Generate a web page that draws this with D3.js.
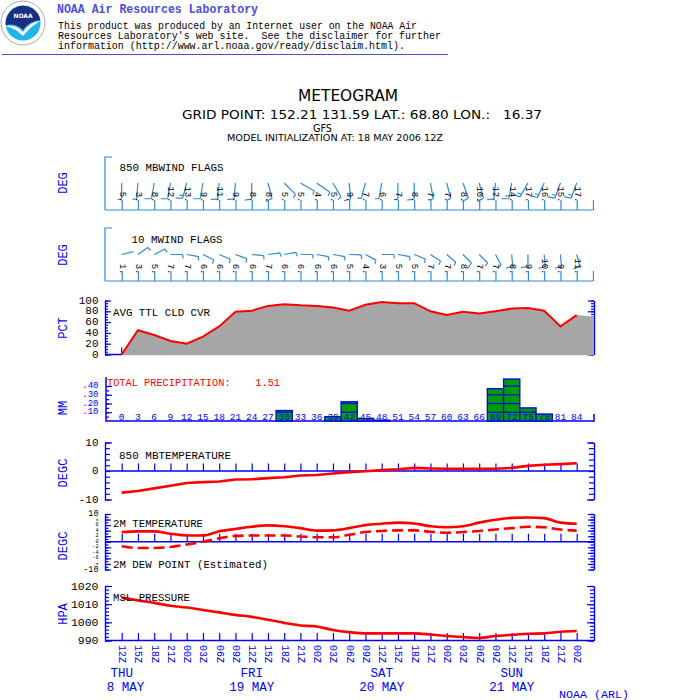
<!DOCTYPE html>
<html>
<head>
<meta charset="utf-8">
<script src="https://cdn.jsdelivr.net/npm/d3@7"></script>
<style>
  body { margin: 0; background: #fff; }
  text { white-space: pre; }
</style>
</head>
<body>
<svg id="chart" width="700" height="700"></svg>
<script>
// forecast hours / labels
const fcstHours = [0,3,6,9,12,15,18,21,24,27,30,33,36,39,42,45,48,51,54,57,60,63,66,69,72,75,78,81,84]
const timeLabels = ['12Z','15Z','18Z','21Z','00Z','03Z','06Z','09Z','12Z','15Z','18Z','21Z','00Z','03Z','06Z','09Z',
  '12Z','15Z','18Z','21Z','00Z','03Z','06Z','09Z','12Z','15Z','18Z','21Z','00Z']
const dayNames = ['THU','FRI','SAT','SUN']
const dayDates = [' 8 MAY','19 MAY','20 MAY','21 MAY']
const dayHours = [0,24,48,72]

// wind flags
const wind850Speed = [5,3,8,12,13,9,11,9,8,8,5,5,4,5,9,7,6,7,8,7,7,8,10,12,14,17,16,15,17]
const wind850Dir = [180,185,190,190,195,190,185,185,180,165,135,120,125,150,175,195,190,180,180,170,165,160,165,185,190,210,205,200,200]
const wind10Speed = [1,3,5,7,7,6,6,6,6,7,6,6,6,6,5,4,3,5,5,7,7,8,7,7,8,9,10,9,11]
const wind10Dir = [76,54,63,90,100,116,113,110,95,82,80,90,100,100,92,118,90,100,112,123,130,135,135,152,175,180,175,175,165]

// panels
const cloudCover = [0,45,36,25,20,33,52,79,81,90,93,91,90,87,81,92,97,95,95,80,73,79,76,80,85,86,81,52,73]
const precip = [0,0,0,0,0,0,0,0,0,0,0.12,0,0,0.05,0.22,0.03,0.01,0,0,0,0,0,0,0.37,0.48,0.15,0.08,0,0]
const precipTotal = '1.51'
const temp850 = [-7.6,-7.0,-6.1,-5.2,-4.2,-3.9,-3.7,-3.0,-2.9,-2.5,-2.2,-1.6,-1.4,-0.9,-0.4,-0.1,0.3,0.6,1.1,0.9,0.8,0.8,0.8,0.8,1.1,1.8,2.2,2.4,2.7]
const temp2m = [3.5,3.75,3.75,2.9,2.25,2.25,3.75,4.6,5.4,5.9,5.6,4.9,4.0,4.1,4.9,6.0,6.5,6.9,6.6,5.6,5.25,5.6,6.9,7.9,8.6,8.75,8.5,6.9,6.5]
const dew2m = [-1.6,-2.25,-2.25,-1.9,-1.0,0,1.25,2.1,2.25,2.25,2.25,1.9,1.6,1.6,2.5,3.5,3.9,4.1,4.1,3.6,3.25,3.5,3.9,4.4,4.9,5.4,5.25,4.4,4.0]
const mslp = [1013.6,1012.1,1010.7,1009.1,1008.2,1006.8,1005.5,1004.1,1003.0,1001.4,999.7,998.3,997.7,995.8,994.6,993.9,993.9,993.9,993.9,993.3,992.5,991.9,991.4,992.5,993.1,993.7,993.9,994.8,995.2]

const svg = d3.select('#chart')
const mono = "'Liberation Mono', 'DejaVu Sans Mono', monospace"
const sans = "'DejaVu Sans', 'Liberation Sans', sans-serif"
const blue = '#0000ff'
const windBlue = '#2f8ad8'
const hdrBlue = '#4b4be6'
const red = '#ff0000'

const left = 105, right = 594
const x = d3.scaleLinear().domain([0, 84]).range([121.7, 576.7])
const step = x(3) - x(0)

svg.append('rect').attr('width', 700).attr('height', 700).attr('fill', '#fff')

function txt(g, s, px, py, opts = {}) {
  const t = g.append('text')
    .attr('x', px).attr('y', py)
    .attr('font-family', opts.font || mono)
    .attr('font-size', opts.size || 11)
    .attr('fill', opts.fill || '#000')
    .attr('text-anchor', opts.anchor || 'start')
    .text(s)
  if (opts.len) t.attr('textLength', opts.len).attr('lengthAdjust', 'spacingAndGlyphs')
  if (opts.weight) t.attr('font-weight', opts.weight)
  return t
}

function yTitle(label, cy) {
  svg.append('text')
    .attr('transform', `translate(67,${cy}) rotate(-90)`)
    .attr('text-anchor', 'middle')
    .attr('font-family', mono).attr('font-size', 12)
    .attr('fill', blue).text(label)
}

// vertical frame axis with inward ticks
function frame(scale, xPos, minorVals, majorVals, minorLen, majorLen, inward, color = blue) {
  const mk = inward > 0 ? d3.axisRight : d3.axisLeft
  const g = svg.append('g').attr('transform', `translate(${xPos},0)`)
  g.append('g').call(mk(scale).tickValues(minorVals).tickSizeInner(minorLen).tickSizeOuter(0).tickFormat(''))
  g.append('g').call(mk(scale).tickValues(majorVals).tickSizeInner(majorLen).tickSizeOuter(0).tickFormat(''))
  g.selectAll('path,line').attr('stroke', color).attr('stroke-width', 1.2)
  return g
}

function yLabels(scale, vals, fmt, color = '#000', size = 11) {
  vals.forEach(v => {
    txt(svg, fmt(v), 98.5, scale(v), { size, fill: color, anchor: 'end' })
      .attr('dominant-baseline', 'central')
  })
}

function timeTicks(y0, len, color = blue) {
  const g = svg.append('g').attr('transform', `translate(0,${y0})`)
    .call(d3.axisTop(x).tickValues(fcstHours).tickSizeInner(len).tickSizeOuter(0).tickFormat(''))
  g.select('.domain').remove()
  g.selectAll('line').attr('stroke', color).attr('stroke-width', 1.2)
  svg.append('line').attr('x1', left).attr('x2', right).attr('y1', y0).attr('y2', y0)
    .attr('stroke', color).attr('stroke-width', 1.5)
}

// ---------- header ----------
const logo = svg.append('g').attr('transform', 'translate(23,23)')
logo.append('circle').attr('r', 22).attr('fill', '#fff').attr('stroke', '#aaa')
logo.append('circle').attr('r', 17.5).attr('fill', '#1fb4ea')
logo.append('path').attr('d', 'M-17.3,2 A17.5,17.5 0 0 1 17.3,-3 Q6,-2 0,7 Q-7,0 -17.3,2 Z').attr('fill', '#1b2f82')
logo.append('path').attr('d', 'M-17.5,3 Q-7,1 0,9 Q6,-1 17.5,-2 Q8,3 0,13 Q-8,5 -17.5,3 Z').attr('fill', '#fff')
txt(logo, 'NOAA', 0, -5, { size: 6, fill: '#fff', anchor: 'middle', weight: 'bold', font: sans })

txt(svg, 'NOAA Air Resources Laboratory', 57, 13, { size: 12, fill: hdrBlue, weight: 'bold', len: 201 })
txt(svg, 'This product was produced by an Internet user on the NOAA Air', 58, 29, { size: 10, len: 359 })
txt(svg, "Resources Laboratory's web site.  See the disclaimer for further", 58, 39, { size: 10, len: 383 })
txt(svg, 'information (http://www.arl.noaa.gov/ready/disclaim.html).', 58, 49, { size: 10, len: 347 })
svg.append('line').attr('x1', 2).attr('x2', 448).attr('y1', 54.5).attr('y2', 54.5).attr('stroke', hdrBlue)

// ---------- title ----------
txt(svg, 'METEOGRAM', 348, 101, { size: 16, anchor: 'middle', font: sans, len: 100 })
txt(svg, 'GRID POINT: 152.21 131.59 LAT.: 68.80 LON.:   16.37', 182, 119, { size: 11.5, font: sans, len: 360 })
txt(svg, 'GFS', 313, 131.5, { size: 10.5, font: sans, len: 19 })
txt(svg, 'MODEL INITIALIZATION AT: 18 MAY 2006 12Z', 227, 141, { size: 8.5, font: sans, len: 216 })

// ---------- wind flags ----------
function windPanel(top, bottom, label, labelX, speeds, dirs, stationY, staffLen, numEndY, titleY) {
  svg.append('path')
    .attr('d', `M${left + 7},${top} H${left} V${bottom}`)
    .attr('fill', 'none').attr('stroke', windBlue).attr('stroke-width', 1.2)
  const g = svg.append('g').attr('transform', `translate(0,${bottom})`)
    .call(d3.axisTop(x).tickValues(fcstHours.concat([87])).tickSizeInner(10).tickSizeOuter(0).tickFormat(''))
  g.select('.domain').remove()
  g.selectAll('line').attr('stroke', windBlue).attr('stroke-width', 1.2)
  svg.append('line').attr('x1', left).attr('x2', x(87)).attr('y1', bottom).attr('y2', bottom)
    .attr('stroke', windBlue).attr('stroke-width', 1.2)
  txt(svg, label, labelX, titleY, { size: 11, len: label.length * 6.5 })

  const bg = svg.append('g')
  fcstHours.forEach((h, i) => {
    const cx = x(h), a = dirs[i] * Math.PI / 180
    const ux = Math.sin(a), uy = -Math.cos(a)
    const ex = cx + ux * staffLen, ey = stationY + uy * staffLen
    let d = `M${cx},${stationY} L${ex},${ey}`
    const phi = 80 * Math.PI / 180
    const bx = ux * Math.cos(phi) - uy * Math.sin(phi)
    const by = ux * Math.sin(phi) + uy * Math.cos(phi)
    const r = Math.round(speeds[i] / 5) * 5
    const full = Math.floor(r / 10), half = r % 10 ? 1 : 0
    let k = 0
    for (; k < full; k++) {
      const px = ex - ux * k * 3, py = ey - uy * k * 3
      d += ` M${px},${py} l${bx * 7},${by * 7}`
    }
    if (half) {
      const px = ex - ux * k * 3, py = ey - uy * k * 3
      d += ` M${px},${py} l${bx * 4},${by * 4}`
    }
    bg.append('path').attr('d', d).attr('fill', 'none').attr('stroke', windBlue).attr('stroke-width', 1.2)
    bg.append('text')
      .attr('transform', `translate(${cx},${numEndY}) rotate(90)`)
      .attr('text-anchor', 'end').attr('dominant-baseline', 'central')
      .attr('font-family', mono).attr('font-size', 9).attr('fill', '#000')
      .text(speeds[i] + '.')
  })
}

windPanel(157, 210, '850 MBWIND FLAGS', 119.5, wind850Speed, wind850Dir, 183, 16, 202.5, 171)
yTitle('DEG', 183)
windPanel(228, 281, '10 MWIND FLAGS', 131.5, wind10Speed, wind10Dir, 254.5, 12, 274.5, 242.5)
yTitle('DEG', 255)

// ---------- cloud cover ----------
const yCloud = d3.scaleLinear().domain([0, 100]).range([354.5, 300.5])
frame(yCloud, left, d3.range(0, 101, 5), d3.range(0, 101, 20), 3, 6, 1)
frame(yCloud, right, d3.range(0, 101, 5), d3.range(0, 101, 20), 3, 6, -1)
svg.append('line').attr('x1', left).attr('x2', x(0)).attr('y1', yCloud(0)).attr('y2', yCloud(0)).attr('stroke', blue).attr('stroke-width', 1.5)
svg.append('line').attr('x1', x(0)).attr('x2', x(0)).attr('y1', yCloud(0)).attr('y2', yCloud(0) - 7).attr('stroke', blue).attr('stroke-width', 1.2)
const cloudPts = fcstHours.map((h, i) => [h, cloudCover[i]])
const cloudArea = cloudPts.concat([[x.invert(right), cloudCover[cloudCover.length - 1] - 3]])
svg.append('path').datum(cloudArea)
  .attr('fill', '#a6a6a6')
  .attr('d', d3.area().x(d => x(d[0])).y0(yCloud(0) + 0.8).y1(d => yCloud(d[1])))
svg.append('path').datum(cloudPts)
  .attr('fill', 'none').attr('stroke', red).attr('stroke-width', 2)
  .attr('d', d3.line().x(d => x(d[0])).y(d => yCloud(d[1])))
yLabels(yCloud, [0, 20, 40, 60, 80, 100], d => String(d))
txt(svg, 'AVG TTL CLD CVR', 113, 316, { size: 11, len: 97 })
yTitle('PCT', 328)

// ---------- precipitation ----------
const yPrecip = d3.scaleLinear().domain([0, 0.4]).range([421, 386])
svg.append('g').attr('transform', `translate(106,0)`)
  .call(d3.axisRight(yPrecip).tickValues([0.05, 0.1, 0.15, 0.2, 0.25, 0.3, 0.35, 0.4]).tickSizeInner(3).tickSizeOuter(0).tickFormat(''))
  .call(g => g.select('.domain').remove())
  .selectAll('line').attr('stroke', blue).attr('stroke-width', 1.2)
svg.append('g').attr('transform', `translate(106,0)`)
  .call(d3.axisRight(yPrecip).tickValues([0.1, 0.2, 0.3, 0.4]).tickSizeInner(6).tickSizeOuter(0).tickFormat(''))
  .call(g => g.select('.domain').remove())
  .selectAll('line').attr('stroke', blue).attr('stroke-width', 1.2)
svg.append('path').attr('d', `M106,377 V421 H${right} V414`).attr('fill', 'none').attr('stroke', blue).attr('stroke-width', 1.5)
const bars = svg.append('g')
fcstHours.forEach((h, i) => {
  const v = precip[i]
  if (!v) return
  bars.append('rect')
    .attr('x', x(h) - step / 2).attr('width', step)
    .attr('y', yPrecip(v)).attr('height', yPrecip(0) - yPrecip(v))
    .attr('fill', '#009c00').attr('stroke', blue).attr('stroke-width', 1.3)
  for (let lv = 0.1; lv < v - 0.005; lv += 0.1) {
    bars.append('line')
      .attr('x1', x(h) - step / 2).attr('x2', x(h) + step / 2)
      .attr('y1', yPrecip(lv)).attr('y2', yPrecip(lv))
      .attr('stroke', blue).attr('stroke-width', 1.3)
  }
})
fcstHours.forEach(h => txt(svg, String(h), x(h), 420, { size: 9.5, fill: blue, anchor: 'middle' }))
yLabels(yPrecip, [0.1, 0.2, 0.3, 0.4], d => d3.format('.2f')(d).slice(1), blue, 9)
txt(svg, 'TOTAL PRECIPITATION:    ' + precipTotal, 107, 386, { size: 11, fill: red, len: 173 })
yTitle('MM', 408)

// ---------- 850 mb temperature ----------
const yT850 = d3.scaleLinear().domain([-10, 10]).range([499.5, 442.5])
frame(yT850, left, d3.range(-10, 10.1, 2), [-10, 10], 5, 7, 1)
frame(yT850, right, d3.range(-10, 10.1, 2), [-10, 10], 5, 7, -1)
timeTicks(yT850(0), 7.5)
svg.append('path').datum(temp850)
  .attr('fill', 'none').attr('stroke', red).attr('stroke-width', 2.6)
  .attr('d', d3.line().x((d, i) => x(fcstHours[i])).y(d => yT850(d)))
yLabels(yT850, [-10, 0, 10], d => String(d))
txt(svg, '850 MBTEMPERATURE', 119, 458.5, { size: 11, len: 112 })
yTitle('DEGC', 473)

// ---------- 2 m temperature / dew point ----------
const yT2 = d3.scaleLinear().domain([-10, 10]).range([569.5, 514])
frame(yT2, left, d3.range(-10, 10.1, 1), d3.range(-10, 10.1, 2), 3.5, 6, 1)
frame(yT2, right, d3.range(-10, 10.1, 1), d3.range(-10, 10.1, 2), 3.5, 6, -1)
timeTicks(yT2(0), 8)
svg.append('path').datum(temp2m)
  .attr('fill', 'none').attr('stroke', red).attr('stroke-width', 2.6)
  .attr('d', d3.line().x((d, i) => x(fcstHours[i])).y(d => yT2(d)).curve(d3.curveMonotoneX))
svg.append('path').datum(dew2m)
  .attr('fill', 'none').attr('stroke', red).attr('stroke-width', 2.6).attr('stroke-dasharray', '11,5')
  .attr('d', d3.line().x((d, i) => x(fcstHours[i])).y(d => yT2(d)).curve(d3.curveMonotoneX))
// crowded labels: the inner ones are set small so they stack without colliding
yLabels(yT2, [-10, 10], d => String(d), '#000', 8.5)
yLabels(yT2, [-6, -4, -2, 0, 2, 4, 6], d => String(d), '#000', 5.2)
yLabels(yT2, [-8, 8], d => String(d), '#000', 4.2)
txt(svg, '2M TEMPERATURE', 113, 526.5, { size: 11, len: 90 })
txt(svg, '2M DEW POINT (Estimated)', 113, 568, { size: 11, len: 155 })
yTitle('DEGC', 546)

// ---------- MSL pressure ----------
const yP = d3.scaleLinear().domain([990, 1020]).range([640.5, 586])
frame(yP, left, d3.range(990, 1020.1, 2), d3.range(990, 1020.1, 10), 4, 7, 1)
frame(yP, right, d3.range(990, 1020.1, 2), d3.range(990, 1020.1, 10), 4, 7, -1)
timeTicks(yP(990), 7.5)
svg.append('path').datum(mslp)
  .attr('fill', 'none').attr('stroke', red).attr('stroke-width', 2.6)
  .attr('d', d3.line().x((d, i) => x(fcstHours[i])).y(d => yP(d)).curve(d3.curveMonotoneX))
yLabels(yP, [990, 1000, 1010, 1020], d => String(d), '#000', 11.5)
txt(svg, 'MSL PRESSURE', 113, 600.5, { size: 11, len: 77 })
yTitle('HPA', 614)

// ---------- time axis ----------
fcstHours.forEach((h, i) => {
  svg.append('text')
    .attr('transform', `translate(${x(h)},645) rotate(90)`)
    .attr('dominant-baseline', 'central')
    .attr('font-family', mono).attr('font-size', 10).attr('fill', blue)
    .text(timeLabels[i])
})
dayHours.forEach((h, i) => {
  txt(svg, dayNames[i], x(h), 677, { size: 12.5, fill: blue, anchor: 'middle' })
  txt(svg, dayDates[i], x(h), 690.5, { size: 12.5, fill: blue, anchor: 'middle' })
})
txt(svg, 'NOAA (ARL)', 559, 698, { size: 11.5, fill: blue, len: 70 })
</script>
</body>
</html>
